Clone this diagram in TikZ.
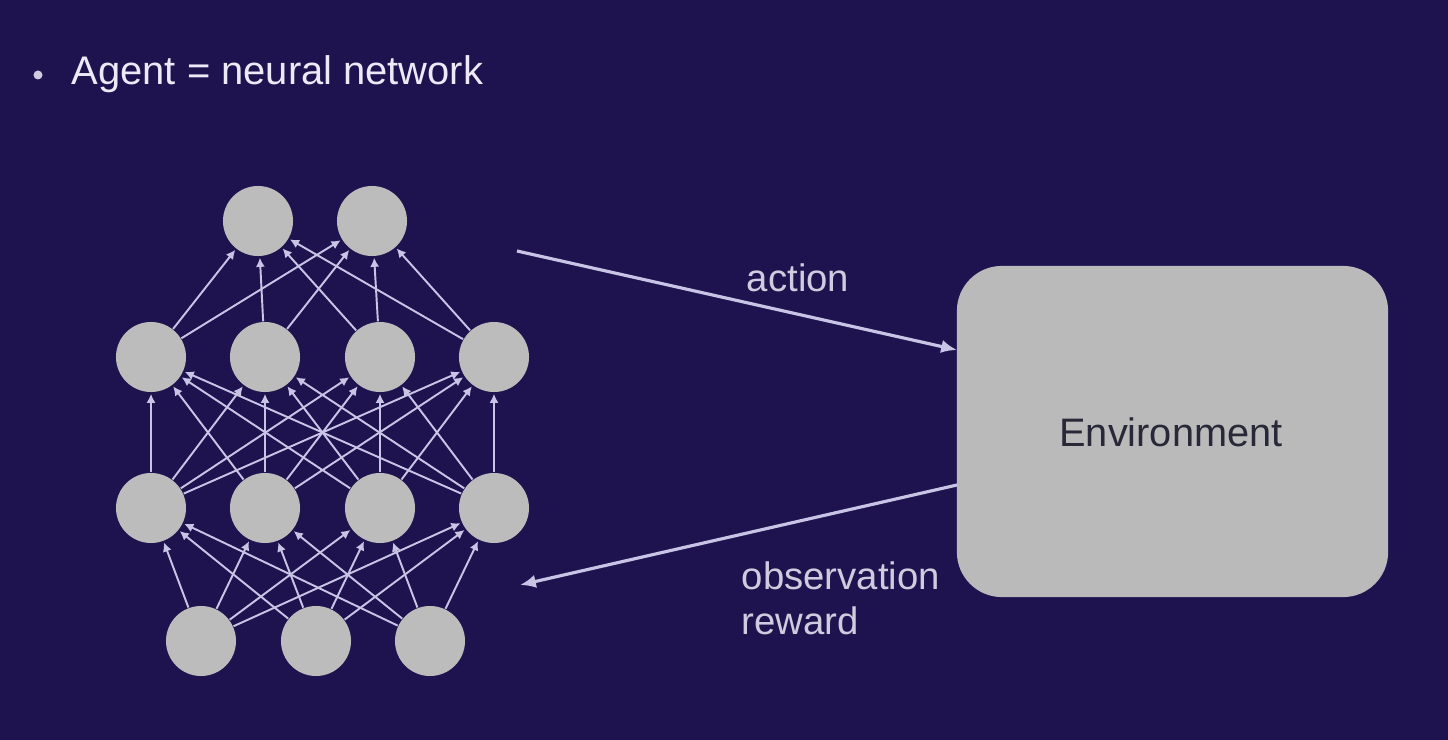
\documentclass[tikz,border=0pt]{standalone}
\usepackage{fontspec}
\setmainfont{Liberation Sans}
\usetikzlibrary{arrows.meta}
\definecolor{bg}{RGB}{31,19,79}
\definecolor{nodegray}{RGB}{189,188,188}
\definecolor{envgray}{RGB}{186,186,186}
\definecolor{linecol}{RGB}{200,196,230}
\definecolor{titlecol}{RGB}{236,234,246}
\definecolor{labelcol}{RGB}{206,204,222}
\definecolor{envtext}{RGB}{40,40,56}
\tikzset{
  neuron/.style={circle,fill=nodegray,minimum size=0.7cm,inner sep=0pt},
  netedge/.style={draw=linecol,line width=0.55pt,-{Latex[length=2.6pt,width=2.6pt]},shorten >=0.3pt},
  bigarrow/.style={draw=linecol,line width=0.9pt,-{Latex[length=4.5pt,width=3.8pt]}},
  envbox/.style={fill=envgray,rounded corners=0.45cm,minimum width=4.31cm,minimum height=3.31cm,inner sep=0pt},
  lbl/.style={text=labelcol,font=\fontsize{10.9}{12.8}\selectfont,inner sep=0pt}
}
\begin{document}
\begin{tikzpicture}[x=0.01cm,y=-0.01cm]
\fill[bg] (0,0) rectangle (1448,740);
\useasboundingbox (0,0) rectangle (1448,740);
% title
\node[circle,fill=labelcol,minimum size=0.09cm,inner sep=0pt] (bullet) at (38,75) {};
\node[anchor=west,text=titlecol,font=\fontsize{11.35}{13}\selectfont,inner sep=0pt] (title) at (71,74) {Agent = neural network};
% neurons
\node[neuron] (o1) at (258,221) {};
\node[neuron] (o2) at (372,221) {};
\foreach \i/\x in {1/151,2/265,3/380,4/494}{
  \node[neuron] (a\i) at (\x,357) {};
  \node[neuron] (b\i) at (\x,508) {};
}
\foreach \i/\x in {1/201,2/316,3/430}{
  \node[neuron] (c\i) at (\x,641) {};
}
% edges
\foreach \s in {1,2,3}{\foreach \t in {1,2,3,4}{\draw[netedge] (c\s) -- (b\t);}}
\foreach \s in {1,2,3,4}{\foreach \t in {1,2,3,4}{\draw[netedge] (b\s) -- (a\t);}}
\foreach \s in {1,2,3,4}{\foreach \t in {1,2}{\draw[netedge] (a\s) -- (o\t);}}
% environment
\node[envbox] (env) at (1172.5,431.5) {};
\node[text=envtext,font=\fontsize{11.3}{13}\selectfont,inner sep=0pt] (envlabel) at (1171,432) {Environment};
% action / observation
\coordinate (actS) at (517,251);
\coordinate (actE) at (957,350);
\coordinate (obsS) at (957,485);
\coordinate (obsE) at (520,585);
\draw[bigarrow] (actS) -- (actE);
\draw[bigarrow] (obsS) -- (obsE);
\node[lbl] (action) at (798,278) {action};
\node[lbl,anchor=west,align=left] (obs) at (741,598) {observation\\reward};
\end{tikzpicture}
\end{document}
